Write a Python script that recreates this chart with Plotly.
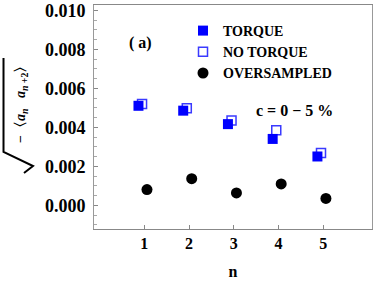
import plotly.graph_objects as go

n = [1, 2, 3, 4, 5]
torque = [0.00511, 0.00486, 0.00417, 0.00341, 0.00251]
no_torque = [0.00520, 0.00499, 0.00436, 0.00385, 0.00269]
oversampled = [0.00081, 0.00137, 0.00064, 0.00110, 0.00036]
y_ticks = [0.000, 0.002, 0.004, 0.006, 0.008, 0.010]
y_tick_labels = ["0.000", "0.002", "0.004", "0.006", "0.008", "0.010"]
x_ticks = [1, 2, 3, 4, 5]

FONT = "Liberation Serif, Times New Roman, serif"
W, H = 374, 291
L, R, T, B = 94, 2, 5, 62
PW = W - L - R
PH = H - T - B


def px(x):
    return (x - L) / PW


def py(y):
    return (H - B - y) / PH


fig = go.Figure()
fig.add_trace(go.Scatter(
    x=[v - 0.05 for v in n], y=no_torque, mode="markers", name="NO TORQUE",
    legendrank=2,
    marker=dict(symbol="square-open", size=9, color="#3a3aff", line=dict(width=1.5, color="#3a3aff")),
))
fig.add_trace(go.Scatter(
    x=[v - 0.13 for v in n], y=torque, mode="markers", name="TORQUE",
    legendrank=1,
    marker=dict(symbol="square", size=10, color="#0000ff", line=dict(width=0)),
))
fig.add_trace(go.Scatter(
    x=[v + 0.06 for v in n], y=oversampled, mode="markers", name="OVERSAMPLED",
    legendrank=3,
    marker=dict(symbol="circle", size=11, color="#000000", line=dict(width=0)),
))

xr = [-0.124, 6.09]
fig.update_layout(
    template="none",
    width=W, height=H,
    margin=dict(l=L, r=R, t=T, b=B, pad=0),
    paper_bgcolor="white", plot_bgcolor="white",
    font=dict(family=FONT, size=14, color="black", weight="bold"),
    showlegend=True,
    legend=dict(
        x=px(183), y=py(15), xanchor="left", yanchor="top",
        bgcolor="rgba(0,0,0,0)", borderwidth=0,
        font=dict(family=FONT, size=14, color="black", weight="bold"),
        itemwidth=30, tracegroupgap=0,
    ),
    xaxis=dict(
        range=xr, showgrid=False, zeroline=False, automargin=False,
        tickmode="array", tickvals=x_ticks,
        ticks="inside", ticklen=4, tickcolor="#888", tickwidth=1,
        showline=True, linecolor="#888", linewidth=1, mirror=True,
        tickfont=dict(family=FONT, size=16, weight="bold", color="black"),
        title=dict(text="n", font=dict(family=FONT, size=16, weight="bold", color="black"), standoff=14),
    ),
    xaxis2=dict(
        range=xr, overlaying="x", side="top", showgrid=False, zeroline=False, automargin=False,
        tick0=0, dtick=1, ticks="inside", ticklen=4, tickcolor="#888",
        showticklabels=False, showline=False,
        minor=dict(ticks="inside", dtick=0.2, tick0=0, ticklen=2.5, tickcolor="#999"),
    ),
    yaxis=dict(
        range=[-0.00121, 0.01028], showgrid=False, zeroline=False, automargin=False,
        tickmode="array", tickvals=y_ticks, ticktext=y_tick_labels,
        ticks="inside", ticklen=4, tickcolor="#888", tickwidth=1,
        minor=dict(ticks="inside", dtick=0.0005, tick0=0, ticklen=2.5, tickcolor="#aaa", showgrid=False),
        showline=True, linecolor="#999", linewidth=1, mirror=True,
        tickfont=dict(family=FONT, size=18, weight="bold", color="black"),
        ticklabelstandoff=4,
    ),
)

fig.add_annotation(
    x=px(140), y=py(43), xref="paper", yref="paper", showarrow=False,
    xanchor="center", yanchor="middle",
    text="( a)", font=dict(family=FONT, size=16, weight="bold"),
)
fig.add_annotation(
    x=px(294), y=py(110), xref="paper", yref="paper", showarrow=False,
    xanchor="center", yanchor="middle",
    text="c = 0 − 5 %", font=dict(family=FONT, size=16, weight="bold"),
)
fig.add_annotation(
    x=px(21), y=py(101), xref="paper", yref="paper", showarrow=False, textangle=-90,
    xanchor="center", yanchor="middle",
    text="−〈<i>a</i><sub><i>n</i></sub>   <i>a</i><sub><i>n</i> +2</sub>〉",
    font=dict(family=FONT, size=14, weight="bold"),
)
path = "M {:.4f},{:.4f} L {:.4f},{:.4f} L {:.4f},{:.4f} L {:.4f},{:.4f}".format(
    px(3.5), py(58), px(3.5), py(152), px(33), py(166), px(24), py(173)
)
fig.add_shape(type="path", path=path, xref="paper", yref="paper",
              line=dict(color="black", width=2))

fig.write_html(
    "out.html",
    config={"displayModeBar": False},
    post_script="document.body.style.margin='0px';document.body.style.overflow='hidden';",
)
